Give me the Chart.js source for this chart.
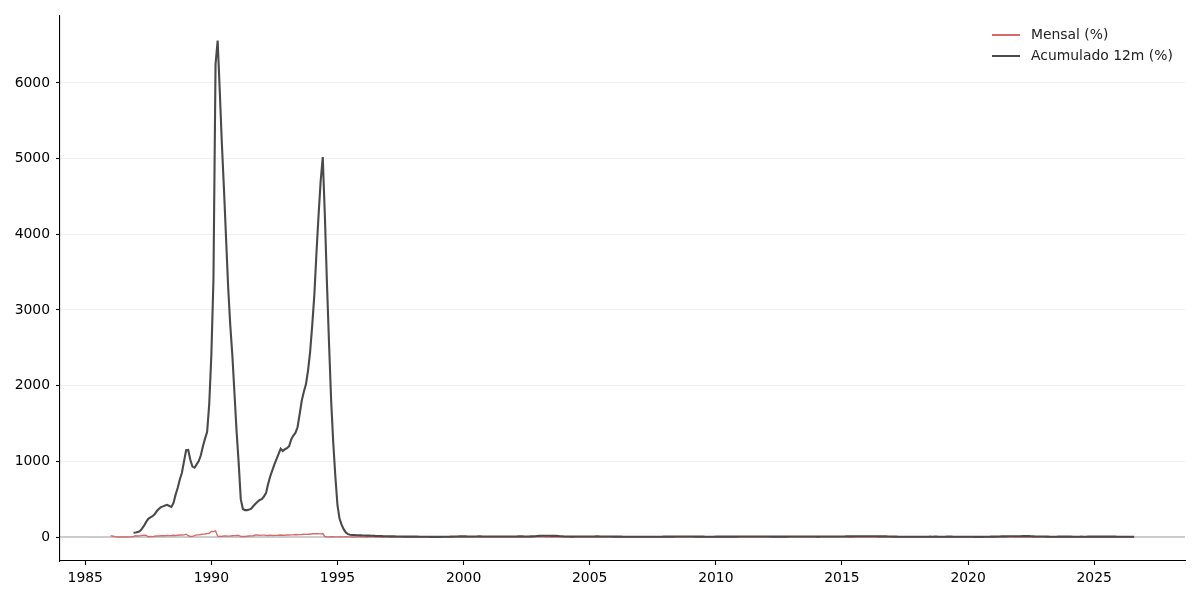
<!DOCTYPE html>
<html>
<head>
<meta charset="utf-8">
<script src="https://cdn.jsdelivr.net/npm/chart.js@4"></script>
<style>
    body { margin: 0; background: #fff; }
    #wrap { position: relative; width: 1200px; height: 600px; }
    #legend { position: absolute; top: 24px; left: 992px; font-family: "DejaVu Sans", sans-serif; font-size: 13.9px; color: #222; }
    #legend div { height: 21px; line-height: 21px; white-space: nowrap; }
    #legend span.sw { display: inline-block; width: 28px; vertical-align: middle; margin-right: 11px; }
</style>
</head>
<body>
<div id="wrap">
    <canvas id="graphIpca" width="1200" height="600"></canvas>
    <div id="legend"></div>
</div>
<script>
// first month of the series: Jan 1986
const startYear = 1986;

const seriesLabels = ['Mensal (%)', 'Acumulado 12m (%)'];
const seriesColors = ['#d66a6a', '#4a4a4a'];

const xTicks = [1985, 1990, 1995, 2000, 2005, 2010, 2015, 2020, 2025];
const yTicks = [0, 1000, 2000, 3000, 4000, 5000, 6000];

// monthly inflation, one row per year (Jan..Dec)
const mensal = [
    14.4, 12.7, 4.8, 0.8, 0.3, 0.5, 0.6, 1.3, 1.1, 1.5, 3.3, 7.3,          // 1986
    16.8, 13.9, 14.4, 21.0, 23.2, 21.2, 3.1, 6.4, 5.7, 9.2, 12.8, 14.1,    // 1987
    16.5, 18.0, 16.0, 19.3, 17.8, 19.5, 24.0, 20.7, 24.0, 27.3, 26.9, 28.8,// 1988
    37.5, 16.8, 6.8, 8.3, 17.9, 28.7, 27.8, 33.7, 37.6, 39.8, 44.3, 49.4,  // 1989
    71.9, 71.7, 81.3, 11.3, 9.1, 9.0, 13.0, 12.9, 11.7, 14.2, 17.5, 18.3,  // 1990
    19.9, 21.9, 7.3, 8.7, 6.5, 9.9, 12.8, 15.5, 16.2, 25.9, 25.8, 22.1,    // 1991
    24.8, 25.4, 21.4, 19.9, 24.9, 20.2, 21.8, 22.1, 24.0, 26.1, 22.9, 23.7,// 1992
    28.7, 26.5, 27.8, 28.2, 32.3, 30.7, 32.0, 33.5, 37.0, 35.1, 37.0, 36.2,// 1993
    42.2, 42.4, 44.8, 42.5, 41.0, 46.6, 6.8, 1.9, 1.5, 2.6, 2.8, 1.7,      // 1994
    1.70, 1.02, 1.55, 2.43, 2.67, 2.26, 2.36, 0.99, 0.99, 1.41, 1.47, 1.56,// 1995
    1.34, 1.03, 0.35, 1.26, 1.22, 1.19, 1.11, 0.44, 0.15, 0.30, 0.32, 0.47,// 1996
    1.18, 0.50, 0.51, 0.88, 0.41, 0.54, 0.22, -0.02, 0.06, 0.23, 0.17, 0.43,
    0.71, 0.46, 0.34, 0.24, 0.50, 0.02, -0.12, -0.51, -0.22, 0.02, -0.12, 0.33,
    0.70, 1.05, 1.10, 0.56, 0.30, 0.19, 1.09, 0.56, 0.31, 1.19, 0.95, 0.60,
    0.62, 0.13, 0.22, 0.42, 0.01, 0.23, 1.61, 1.31, 0.23, 0.14, 0.32, 0.59,// 2000
    0.57, 0.46, 0.38, 0.58, 0.41, 0.52, 1.33, 0.70, 0.28, 0.83, 0.71, 0.65,
    0.52, 0.36, 0.60, 0.80, 0.21, 0.42, 1.19, 0.65, 0.72, 1.31, 3.02, 2.10,
    2.25, 1.57, 1.23, 0.97, 0.61, -0.15, 0.20, 0.34, 0.78, 0.29, 0.34, 0.52,
    0.76, 0.61, 0.47, 0.37, 0.51, 0.71, 0.91, 0.69, 0.33, 0.44, 0.69, 0.86,
    0.58, 0.59, 0.61, 0.87, 0.49, -0.02, 0.25, 0.17, 0.35, 0.75, 0.55, 0.36,// 2005
    0.59, 0.41, 0.43, 0.21, 0.10, -0.21, 0.19, 0.05, 0.21, 0.33, 0.31, 0.48,
    0.44, 0.44, 0.37, 0.25, 0.28, 0.28, 0.24, 0.47, 0.18, 0.30, 0.38, 0.74,
    0.54, 0.49, 0.48, 0.55, 0.79, 0.74, 0.53, 0.28, 0.26, 0.45, 0.36, 0.28,
    0.48, 0.55, 0.20, 0.48, 0.47, 0.36, 0.24, 0.15, 0.24, 0.28, 0.41, 0.37,
    0.75, 0.78, 0.52, 0.57, 0.43, 0.00, 0.01, 0.04, 0.45, 0.75, 0.83, 0.63,// 2010
    0.83, 0.80, 0.79, 0.77, 0.47, 0.15, 0.16, 0.37, 0.53, 0.43, 0.52, 0.50,
    0.56, 0.45, 0.21, 0.64, 0.36, 0.08, 0.43, 0.41, 0.57, 0.59, 0.60, 0.79,
    0.86, 0.60, 0.47, 0.55, 0.37, 0.26, 0.03, 0.24, 0.35, 0.57, 0.54, 0.92,
    0.55, 0.69, 0.92, 0.67, 0.46, 0.40, 0.01, 0.25, 0.57, 0.42, 0.51, 0.78,
    1.24, 1.22, 1.32, 0.71, 0.74, 0.79, 0.62, 0.22, 0.54, 0.82, 1.01, 0.96,// 2015
    1.27, 0.90, 0.43, 0.61, 0.78, 0.35, 0.52, 0.44, 0.08, 0.26, 0.18, 0.30,
    0.38, 0.33, 0.25, 0.14, 0.31, -0.23, 0.24, 0.19, 0.16, 0.42, 0.28, 0.44,
    0.29, 0.32, 0.09, 0.22, 0.40, 1.26, 0.33, -0.09, 0.48, 0.45, -0.21, 0.15,
    0.32, 0.43, 0.75, 0.57, 0.13, 0.01, 0.19, 0.11, -0.04, 0.10, 0.51, 1.15,
    0.21, 0.25, 0.07, -0.31, -0.38, 0.26, 0.36, 0.24, 0.64, 0.86, 0.89, 1.35,// 2020
    0.25, 0.86, 0.93, 0.31, 0.83, 0.53, 0.96, 0.87, 1.16, 1.25, 0.95, 0.73,
    0.54, 1.01, 1.62, 1.06, 0.47, 0.67, -0.68, -0.36, -0.29, 0.59, 0.41, 0.62,
    0.53, 0.84, 0.71, 0.61, 0.23, -0.08, 0.12, 0.23, 0.26, 0.24, 0.28, 0.56,
    0.42, 0.83, 0.16, 0.38, 0.46, 0.21, 0.38, -0.02, 0.44, 0.56, 0.39, 0.52,
    0.16, 1.31, 0.56, 0.43, 0.26, 0.24, 0.26, -0.11, 0.48, 0.09, 0.18, 0.33,// 2025
    0.30, 0.40, 0.40, 0.40, 0.30, 0.30, 0.30, 0.20                         // 2026
];

// 12 month accumulated, starts in Dec 1986
const acumulado12m = [
    null, null, null, null, null, null, null, null, null, null, null, 57,   // 1986
    60, 65, 78, 110, 150, 200, 240, 260, 275, 300, 340, 370,                // 1987
    395, 405, 415, 425, 410, 398, 450, 560, 650, 760, 850, 1000,            // 1988
    1146, 1150, 1020, 930, 916, 960, 1004, 1080, 1200, 1300, 1390, 1760,    // 1989
    2400, 3400, 6250, 6560, 5900, 5200, 4600, 3950, 3300, 2800, 2400, 1900, // 1990
    1400, 980, 500, 370, 355, 355, 362, 375, 410, 440, 465, 490,            // 1991
    500, 535, 580, 700, 800, 880, 960, 1030, 1100, 1167, 1135, 1160,        // 1992
    1175, 1200, 1290, 1340, 1375, 1450, 1620, 1800, 1920, 2018, 2200, 2450, // 1993
    2800, 3200, 3750, 4250, 4700, 5020, 4250, 3350, 2550, 1800, 1240, 800,  // 1994
    420, 240, 160, 100, 60, 38, 30, 27, 26, 24, 23, 22,                     // 1995
    20.9, 19.8, 18.4, 18.0, 17.2, 16.3, 14.8, 14.2, 13.3, 12.0, 10.7, 9.6,  // 1996
    9.4, 8.8, 9.0, 8.6, 7.7, 7.0, 6.1, 5.6, 5.5, 5.4, 5.3, 5.2,
    4.7, 4.7, 4.5, 3.9, 4.0, 3.4, 3.1, 2.6, 2.3, 2.1, 1.8, 1.7,
    1.7, 2.3, 3.1, 3.4, 3.2, 3.3, 4.6, 5.7, 6.3, 7.5, 8.6, 8.9,
    8.9, 7.9, 6.9, 6.8, 6.5, 6.5, 7.1, 7.9, 7.8, 6.7, 6.0, 6.0,             // 2000
    5.9, 6.3, 6.4, 6.6, 7.0, 7.4, 7.1, 6.4, 6.5, 7.2, 7.6, 7.7,
    7.6, 7.5, 7.8, 8.0, 7.8, 7.7, 7.5, 7.5, 7.9, 8.4, 10.9, 12.5,
    14.5, 15.9, 16.6, 16.8, 17.2, 16.6, 15.4, 15.1, 15.1, 14.0, 11.0, 9.3,
    7.7, 6.7, 5.9, 5.3, 5.2, 6.1, 6.8, 7.2, 6.7, 6.9, 7.2, 7.6,
    7.4, 7.4, 7.5, 8.1, 8.0, 7.3, 6.6, 6.0, 6.0, 6.4, 6.2, 5.7,             // 2005
    5.7, 5.5, 5.3, 4.6, 4.2, 4.0, 4.0, 3.8, 3.7, 3.3, 3.0, 3.1,
    3.0, 3.0, 3.0, 3.0, 3.2, 3.7, 3.7, 4.2, 4.2, 4.1, 4.2, 4.5,
    4.6, 4.6, 4.7, 5.0, 5.6, 6.1, 6.4, 6.2, 6.3, 6.4, 6.4, 5.9,
    5.8, 5.9, 5.6, 5.5, 5.2, 4.8, 4.5, 4.4, 4.3, 4.2, 4.2, 4.3,
    4.6, 4.8, 5.2, 5.3, 5.2, 4.8, 4.6, 4.5, 4.7, 5.2, 5.6, 5.9,             // 2010
    6.0, 6.0, 6.3, 6.5, 6.6, 6.7, 6.9, 7.2, 7.3, 7.0, 6.6, 6.5,
    6.2, 5.9, 5.2, 5.1, 5.0, 4.9, 5.2, 5.2, 5.3, 5.5, 5.5, 5.8,
    6.2, 6.3, 6.6, 6.5, 6.5, 6.7, 6.3, 6.1, 5.9, 5.8, 5.8, 5.9,
    5.6, 5.7, 6.2, 6.3, 6.4, 6.5, 6.5, 6.5, 6.8, 6.6, 6.6, 6.4,
    7.1, 7.7, 8.1, 8.2, 8.5, 8.9, 9.6, 9.5, 9.5, 9.9, 10.5, 10.7,           // 2015
    10.7, 10.4, 9.4, 9.3, 9.3, 8.8, 8.7, 9.0, 8.5, 7.9, 7.0, 6.3,
    5.4, 4.8, 4.6, 4.1, 3.6, 3.0, 2.7, 2.5, 2.5, 2.7, 2.8, 3.0,
    2.9, 2.8, 2.7, 2.8, 2.9, 4.4, 4.5, 4.2, 4.5, 4.6, 4.1, 3.8,
    3.8, 3.9, 4.6, 4.9, 4.7, 3.4, 3.2, 3.4, 2.9, 2.5, 3.3, 4.3,
    4.2, 4.0, 3.3, 2.4, 1.9, 2.1, 2.3, 2.4, 3.1, 3.9, 4.3, 4.5,             // 2020
    4.6, 5.2, 6.1, 6.8, 8.1, 8.4, 9.0, 9.7, 10.3, 10.7, 10.7, 10.1,
    10.4, 10.5, 11.3, 12.1, 11.7, 11.9, 10.1, 8.7, 7.2, 6.5, 5.9, 5.8,
    5.8, 5.6, 4.7, 4.2, 3.9, 3.2, 4.0, 4.6, 5.2, 4.8, 4.7, 4.6,
    4.5, 4.5, 3.9, 3.7, 3.9, 4.2, 4.5, 4.2, 4.4, 4.8, 4.9, 4.8,
    4.6, 5.1, 5.5, 5.5, 5.3, 5.4, 5.2, 5.1, 5.2, 4.7, 4.5, 4.3,             // 2025
    4.4, 3.9, 3.7, 3.7, 3.7, 3.8, 3.8, 4.1                                  // 2026
];

function to_Points(values) {
    return values.map((v, i) => ({ x: startYear + i / 12, y: v }));
}

// grey line on y = 0 across the plot
const zeroLinePlugin = {
    id: 'zeroLine',
    beforeDatasetsDraw(chart) {
        const ctx = chart.ctx;
        const area = chart.chartArea;
        const y = chart.scales.y.getPixelForValue(0);
        ctx.save();
        ctx.strokeStyle = '#9a9a9a';
        ctx.lineWidth = 1.1;
        ctx.beginPath();
        ctx.moveTo(area.left, y);
        ctx.lineTo(area.right, y);
        ctx.stroke();
        ctx.restore();
    }
};

function create_Graph() {
    const tickFont = { family: '"DejaVu Sans", sans-serif', size: 13.9 };

    const context = document.getElementById('graphIpca').getContext('2d');
    new Chart(context, {
        type: 'line',
        data: {
            datasets: [
                {
                    label: seriesLabels[0],
                    data: to_Points(mensal),
                    borderColor: seriesColors[0],
                    borderWidth: 1.4,
                    pointRadius: 0,
                    tension: 0,
                    order: 2
                },
                {
                    label: seriesLabels[1],
                    data: to_Points(acumulado12m),
                    borderColor: seriesColors[1],
                    borderWidth: 2.1,
                    pointRadius: 0,
                    tension: 0,
                    order: 1
                }
            ]
        },
        options: {
            responsive: false,
            animation: false,
            devicePixelRatio: 1,
            layout: { padding: { left: 0, right: 15, top: 16, bottom: 0 } },
            plugins: {
                legend: { display: false },
                tooltip: { enabled: false }
            },
            scales: {
                x: {
                    type: 'linear',
                    min: 1984.0,
                    max: 2028.6,
                    afterBuildTicks: (scale) => { scale.ticks = xTicks.map(v => ({ value: v })); },
                    afterFit: (scale) => { scale.height = 39; },
                    border: { color: '#000', width: 1.1 },
                    grid: { drawOnChartArea: false, tickLength: 4, tickColor: '#000', tickWidth: 1.1 },
                    ticks: { font: tickFont, color: '#000', padding: 5, maxRotation: 0, callback: (v) => String(v) }
                },
                y: {
                    min: -317,
                    max: 6885,
                    afterBuildTicks: (scale) => { scale.ticks = yTicks.map(v => ({ value: v })); },
                    afterFit: (scale) => { scale.width = 60; },
                    border: { color: '#000', width: 1.1 },
                    grid: {
                        color: (ctx) => ctx.tick && ctx.tick.value === 0 ? 'rgba(0,0,0,0)' : '#ececec',
                        lineWidth: 0.8,
                        tickLength: 4,
                        tickColor: '#000',
                        tickWidth: 1.1
                    },
                    ticks: { font: tickFont, color: '#000', padding: 6, callback: (v) => String(v) }
                }
            }
        },
        plugins: [zeroLinePlugin]
    });

    const legendDiv = document.getElementById('legend');
    legendDiv.innerHTML = seriesLabels.map((label, i) =>
        `<div><span class="sw" style="height: ${i === 0 ? 1.5 : 2}px; background: ${seriesColors[i]};"></span>${label}</div>`
    ).join('');
}

window.onload = create_Graph;
</script>
</body>
</html>
